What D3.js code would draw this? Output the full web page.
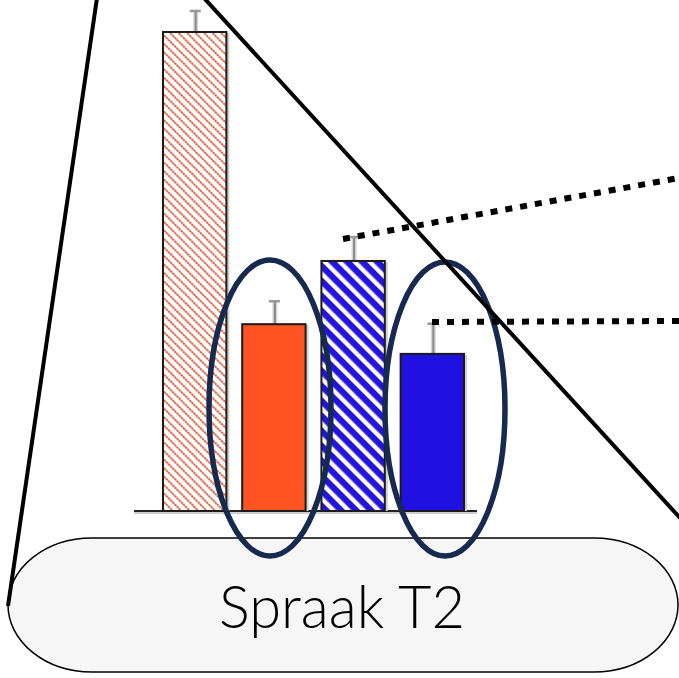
<!DOCTYPE html>
<html>
<head>
<meta charset="utf-8">
<script src="https://cdn.jsdelivr.net/npm/d3@7"></script>
<style>
  html, body { margin: 0; padding: 0; background: white; }
  #chart { width: 679px; height: 678px; }
</style>
</head>
<body>
<div id="chart"></div>
<script>
// bar chart data (values relative to the tallest bar)
const groups = ["pre-A", "post-A", "pre-B", "post-B"];
const means = [100, 39.0, 52.2, 32.8];
const errors = [4.6, 5.0, 5.2, 6.5];
const fills = ["url(#hatchRed)", "#ff5322", "url(#hatchBlue)", "#2111e0"];
const label = "Spraak T2";

const svg = d3.select("#chart").append("svg")
    .attr("width", 679)
    .attr("height", 678);

const defs = svg.append("defs");

// thin red hatch on white
const p1 = defs.append("pattern")
    .attr("id", "hatchRed")
    .attr("patternUnits", "userSpaceOnUse")
    .attr("width", 6).attr("height", 6)
    .attr("patternTransform", "rotate(-45)");
p1.append("rect").attr("width", 6).attr("height", 6).attr("fill", "white");
p1.append("line").attr("x1", 1).attr("y1", 0).attr("x2", 1).attr("y2", 6)
    .attr("stroke", "#de5b38").attr("stroke-width", 1.8)
    .attr("stroke-dasharray", "2.5 0.5");

// blue with wide white stripes
const p2 = defs.append("pattern")
    .attr("id", "hatchBlue")
    .attr("patternUnits", "userSpaceOnUse")
    .attr("width", 10.6).attr("height", 10.6)
    .attr("patternTransform", "rotate(-45)");
p2.append("rect").attr("width", 10.6).attr("height", 10.6).attr("fill", "#2414dc");
p2.append("rect").attr("x", 0).attr("width", 4.3).attr("height", 10.6).attr("fill", "white");

// label pill at the bottom
svg.append("rect")
    .attr("x", 8).attr("y", 538)
    .attr("width", 670).attr("height", 134)
    .attr("rx", 84).attr("ry", 67)
    .attr("fill", "#f6f6f6")
    .attr("stroke", "black")
    .attr("stroke-width", 1.5);

svg.append("text")
    .attr("x", 342).attr("y", 628)
    .attr("text-anchor", "middle")
    .attr("textLength", 246)
    .attr("lengthAdjust", "spacingAndGlyphs")
    .style("font-family", "Lato, 'Open Sans', sans-serif")
    .style("font-weight", 300)
    .style("font-size", "59px")
    .attr("fill", "black")
    .text(label);

const baseY = 511;
const x = d3.scaleBand().domain(groups).range([163, 464]).paddingInner(0.2).paddingOuter(0);
const y = d3.scaleLinear().domain([0, 100]).range([baseY, 32]);

const chart = svg.append("g");

// baseline with soft shadow
chart.append("line")
    .attr("x1", 134).attr("x2", 477).attr("y1", baseY + 2).attr("y2", baseY + 2)
    .attr("stroke", "#cfcfcf").attr("stroke-width", 2);
chart.append("line")
    .attr("x1", 134).attr("x2", 477).attr("y1", baseY).attr("y2", baseY)
    .attr("stroke", "#222").attr("stroke-width", 2);

// error bars (drawn first so they sit behind bar tops)
groups.forEach((g, i) => {
    const cx = x(g) + x.bandwidth() / 2 + 1;
    const top = y(means[i] + errors[i]);
    chart.append("line")
        .attr("x1", cx).attr("x2", cx).attr("y1", y(means[i])).attr("y2", top)
        .attr("stroke", "#d4d4d4").attr("stroke-width", 5);
    chart.append("line")
        .attr("x1", cx).attr("x2", cx).attr("y1", y(means[i])).attr("y2", top)
        .attr("stroke", "#8a8a8a").attr("stroke-width", 2);
    chart.append("line")
        .attr("x1", cx - 6).attr("x2", cx + 5).attr("y1", top + 1).attr("y2", top + 1)
        .attr("stroke", "#999").attr("stroke-width", 2.5);
});

// bar shadows
chart.selectAll(".shadow").data(groups).enter().append("rect")
    .attr("class", "shadow")
    .attr("x", d => x(d) + 3)
    .attr("y", (d, i) => y(means[i]) + 1)
    .attr("width", x.bandwidth())
    .attr("height", (d, i) => baseY - y(means[i]) - 1)
    .attr("fill", "#d0d0d0");

chart.selectAll(".bar").data(groups).enter().append("rect")
    .attr("class", "bar")
    .attr("x", d => x(d))
    .attr("y", (d, i) => y(means[i]))
    .attr("width", x.bandwidth())
    .attr("height", (d, i) => baseY - y(means[i]))
    .attr("fill", (d, i) => fills[i])
    .attr("stroke", "#1a1a1a")
    .attr("stroke-width", 2);

// highlight ellipses
const ink = "#16294f";
svg.append("ellipse")
    .attr("cx", 270).attr("cy", 408).attr("rx", 61).attr("ry", 148)
    .attr("fill", "none").attr("stroke", ink).attr("stroke-width", 5.5);
svg.append("ellipse")
    .attr("cx", 445).attr("cy", 409).attr("rx", 60).attr("ry", 147)
    .attr("fill", "none").attr("stroke", ink).attr("stroke-width", 5.5);

// zoom lines
svg.append("line")
    .attr("x1", 97).attr("y1", -2).attr("x2", 8).attr("y2", 606)
    .attr("stroke", "black").attr("stroke-width", 4);
svg.append("line")
    .attr("x1", 204).attr("y1", -2).attr("x2", 681).attr("y2", 519)
    .attr("stroke", "black").attr("stroke-width", 4);

// dotted connectors
svg.append("line")
    .attr("x1", 343).attr("y1", 239).attr("x2", 679).attr("y2", 178)
    .attr("stroke", "black").attr("stroke-width", 6)
    .attr("stroke-dasharray", "7 8");
svg.append("line")
    .attr("x1", 432).attr("y1", 322).attr("x2", 679).attr("y2", 321)
    .attr("stroke", "black").attr("stroke-width", 6)
    .attr("stroke-dasharray", "7 8");
</script>
</body>
</html>
